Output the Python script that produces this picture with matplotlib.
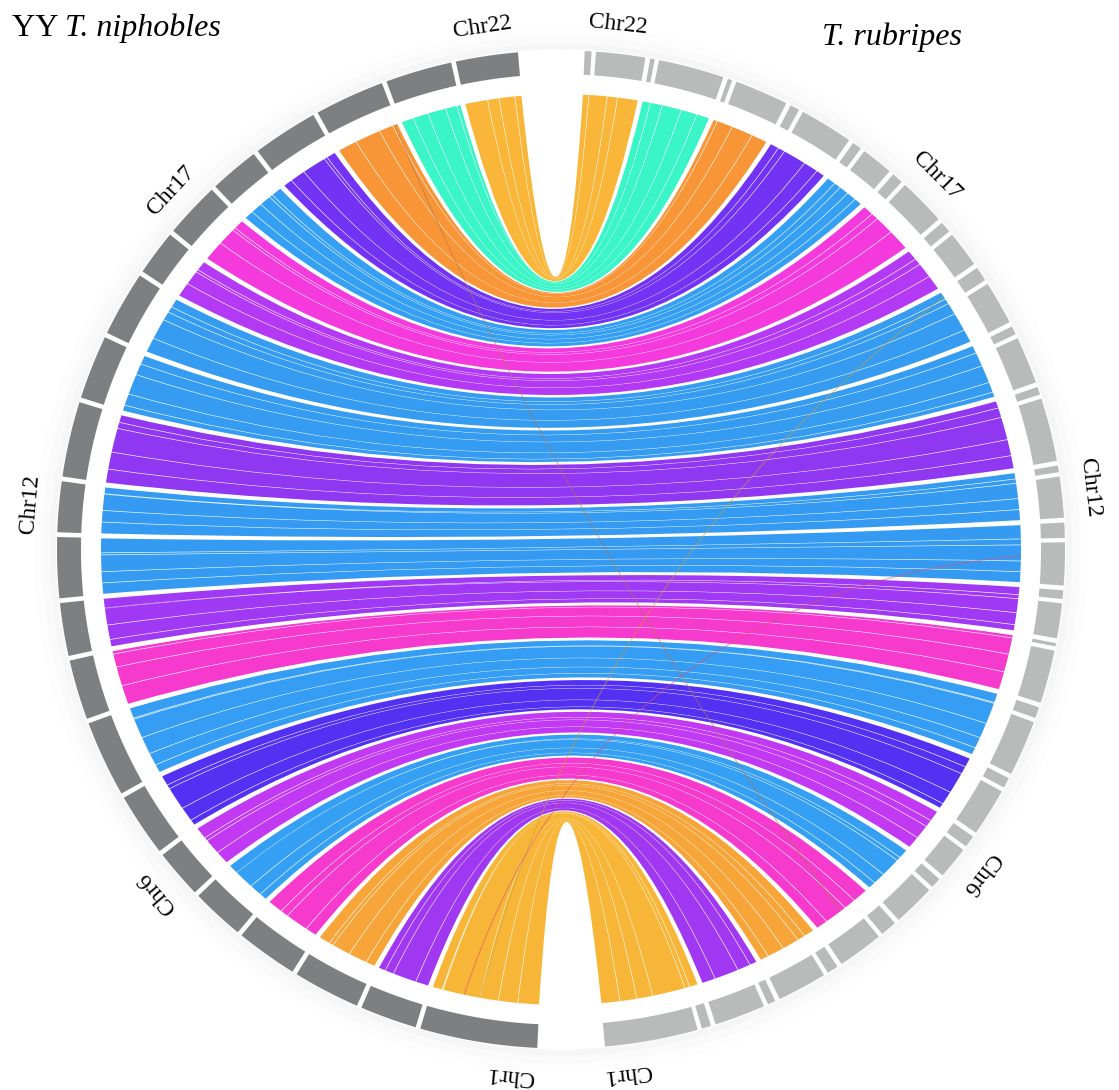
import numpy as np
import matplotlib
matplotlib.use("Agg")
import matplotlib.pyplot as plt
from matplotlib.path import Path
from matplotlib.patches import PathPatch, Polygon, Ellipse

# ---------------- data ----------------
chromosomes = [f"Chr{i}" for i in range(1, 23)]
# YY T. niphobles chromosome lengths (Mb), Chr1..Chr22
niphobles_len = [31.0, 15.1, 17.8, 16.4, 14.1, 13.0, 16.9, 20.4, 16.0, 14.1, 16.2,
                 13.5, 20.1, 17.1, 17.4, 12.1, 14.8, 13.2, 17.4, 18.5, 17.6, 16.4]
# T. rubripes: main chromosome body and short terminal piece (Mb), Chr1..Chr22
rubripes_main = [24.8, 13.6, 13.3, 12.2, 11.3, 8.7, 12.9, 15.0, 14.3, 9.4, 11.5,
                 11.0, 17.0, 12.7, 11.7, 9.7, 12.7, 8.5, 14.3, 14.3, 17.5, 13.1]
rubripes_tail = [2.5, 2.1, 3.0, 4.4, 2.8, 3.2, 2.8, 3.0, 0.9, 2.3, 4.1,
                 1.8, 2.1, 2.3, 3.9, 3.0, 3.0, 2.5, 2.5, 1.2, 1.2, 1.8]
labelled = ["Chr1", "Chr6", "Chr12", "Chr17", "Chr22"]
# colour of the synteny ribbons of each chromosome pair, Chr1..Chr22
link_colors = ["#F8B22E", "#9B2DF2", "#F7A02D", "#F52FCB", "#2A9AF3", "#BE2EF3",
               "#4A26F2", "#2A98F3", "#F62FCC", "#9A2EF3", "#2A96F2", "#2A96F2",
               "#8A2CF2", "#2A97F2", "#2A97F2", "#B02EF5", "#F52FDC", "#2A9BF3",
               "#6A28F5", "#F78F2C", "#2EF5C4", "#F9B22E"]
# synteny block boundaries (fraction of the chromosome from its upper end)
block_breaks = [
    [0.10, 0.45, 0.62, 0.80],   # Chr1
    [0.30, 0.75],               # Chr2
    [0.25, 0.55, 0.85],         # Chr3
    [0.40, 0.80],               # Chr4
    [0.20, 0.60, 0.85],         # Chr5
    [0.35, 0.70],               # Chr6
    [0.25, 0.65, 0.90],         # Chr7
    [0.15, 0.45, 0.70, 0.88],   # Chr8
    [0.30, 0.65],               # Chr9
    [0.20, 0.55, 0.85],         # Chr10
    [0.30, 0.60, 0.80],         # Chr11
    [0.15, 0.50, 0.75],         # Chr12
    [0.20, 0.55, 0.80],         # Chr13
    [0.35, 0.70, 0.90],         # Chr14
    [0.15, 0.40, 0.75],         # Chr15
    [0.30, 0.65],               # Chr16
    [0.25, 0.60],               # Chr17
    [0.30, 0.55, 0.80],         # Chr18
    [0.20, 0.60, 0.85],         # Chr19
    [0.30, 0.70],               # Chr20
    [0.25, 0.55, 0.80],         # Chr21
    [0.40, 0.60],               # Chr22
]
# sparse inter-chromosomal links: niphobles chrom, fraction, rubripes chrom, fraction
cross_nip_chrom = ["Chr20", "Chr1", "Chr1"]
cross_nip_frac = [0.05, 0.45, 0.30]
cross_rub_chrom = ["Chr4", "Chr15", "Chr11"]
cross_rub_frac = [0.50, 0.10, 0.50]
cross_colors = ["#B07A4A", "#C8A030", "#E0506A"]

# ---------------- geometry ----------------
W, H = 1119, 1090
CX, CY = 561.0, 549.5
SY = 0.99
R_OUT, R_IN, R_LINK, R_LABEL = 504.0, 480.0, 460.0, 533.0
GAP, INNER_GAP = 0.55, 0.5
L_START, L_END = 94.9, 267.3
R_START, R_END = 87.3, -85.0
K_CTRL = 0.2


def xy(r, th):
    t = np.radians(th)
    return CX + r * np.cos(t), CY - SY * r * np.sin(t)


n = len(chromosomes)
lscale = (L_END - L_START - (n - 1) * GAP) / sum(niphobles_len)
left_span = {}
a = L_START
for c, L in zip(chromosomes[::-1], niphobles_len[::-1]):
    left_span[c] = (a, a + L * lscale)
    a += L * lscale + GAP

rscale = (R_START - R_END - (n - 1) * GAP - n * INNER_GAP) / (sum(rubripes_main) + sum(rubripes_tail))
right_span = {}
b = R_START
for c, m, t in zip(chromosomes[::-1], rubripes_main[::-1], rubripes_tail[::-1]):
    t_end = b - t * rscale
    m_start = t_end - INNER_GAP
    m_end = m_start - m * rscale
    right_span[c] = (b, t_end, m_start, m_end, t, m)
    b = m_end - GAP


def left_angle(c, f):
    s, e = left_span[c]
    return s + f * (e - s)


def right_angle(c, f):
    b0, t_end, m_start, m_end, t, m = right_span[c]
    u = f * (t + m)
    if u <= t:
        return b0 - u * rscale
    return m_start - (u - t) * rscale


def ctrl(a1, b1):
    px = R_LINK * (np.cos(np.radians(a1)) + np.cos(np.radians(b1))) / 2
    py = R_LINK * (np.sin(np.radians(a1)) + np.sin(np.radians(b1))) / 2
    return CX + K_CTRL * px, CY - SY * K_CTRL * py


def arc_pts(r, t0, t1):
    k = max(6, int(abs(t1 - t0) * 6))
    th = np.linspace(t0, t1, k)
    return [xy(r, t) for t in th]


def ribbon(ax, a0, a1, b0, b1, color, alpha=0.95, z=2):
    verts, codes = [], []
    p = arc_pts(R_LINK, a0, a1)
    verts += p
    codes += [Path.MOVETO] + [Path.LINETO] * (len(p) - 1)
    verts += [ctrl(a1, b1), xy(R_LINK, b1)]
    codes += [Path.CURVE3] * 2
    p = arc_pts(R_LINK, b1, b0)[1:]
    verts += p
    codes += [Path.LINETO] * len(p)
    verts += [ctrl(b0, a0), xy(R_LINK, a0)]
    codes += [Path.CURVE3] * 2
    verts.append(xy(R_LINK, a0))
    codes.append(Path.CLOSEPOLY)
    ax.add_patch(PathPatch(Path(verts, codes), fc=color, ec="none", alpha=alpha, zorder=z))


def ring_seg(ax, s, e, color):
    th = np.linspace(s, e, 40)
    xo, yo = xy(R_OUT, th)
    xi, yi = xy(R_IN, th[::-1])
    ax.add_patch(Polygon(np.column_stack([np.r_[xo, xi], np.r_[yo, yi]]),
                         closed=True, fc=color, ec="none", zorder=3))


# ---------------- figure ----------------
fig = plt.figure(figsize=(W / 100, H / 100), dpi=100)
ax = fig.add_axes([0, 0, 1, 1])
ax.set_xlim(0, W)
ax.set_ylim(H, 0)
ax.axis("off")

# soft halo outside the circle
for r, col in [(528, "#FDFDFD"), (519, "#FAFAFA"), (511, "#F6F6F6")]:
    ax.add_patch(Ellipse((CX, CY), 2 * r, 2 * r * SY, fc=col, ec="none", zorder=0))
ax.add_patch(Ellipse((CX, CY), 2 * (R_OUT + 1), 2 * (R_OUT + 1) * SY, fc="white",
                     ec="none", zorder=0.5))

# chromosome ring
for c in chromosomes:
    s, e = left_span[c]
    ring_seg(ax, s, e, "#7E7F80")
    b0, t_end, m_start, m_end, t, m = right_span[c]
    ring_seg(ax, t_end, b0, "#B9BABA")
    ring_seg(ax, m_end, m_start, "#B9BABA")

# synteny ribbons
DELTA = 0.04
for i, c in enumerate(chromosomes):
    b0, t_end, m_start, m_end, t, m = right_span[c]
    ft = t / (t + m)
    fr = sorted(set([0.0, 1.0, ft] + block_breaks[i]))
    for f0, f1 in zip(fr[:-1], fr[1:]):
        la0, la1 = left_angle(c, f0) + DELTA, left_angle(c, f1) - DELTA
        rb0, rb1 = right_angle(c, f0) - DELTA, right_angle(c, f1) + DELTA
        ribbon(ax, la0, la1, rb0, rb1, link_colors[i])

# inter-chromosomal single links
for cn, fn, cr, fr_, col in zip(cross_nip_chrom, cross_nip_frac, cross_rub_chrom,
                                cross_rub_frac, cross_colors):
    a1 = left_angle(cn, fn)
    b1 = right_angle(cr, fr_)
    verts = [xy(R_LINK, a1), ctrl(a1, b1), xy(R_LINK, b1)]
    ax.add_patch(PathPatch(Path(verts, [Path.MOVETO, Path.CURVE3, Path.CURVE3]),
                           fc="none", ec=col, lw=0.8, alpha=0.55, zorder=4))

# chromosome labels
label_shift = {"Chr1": 4.0}
for c in labelled:
    s, e = left_span[c]
    th = (s + e) / 2 + label_shift.get(c, 0.0)
    x, y = xy(R_LABEL, th)
    ax.text(x, y, c, fontsize=17, family="Liberation Serif", rotation=th - 90,
            rotation_mode="anchor", ha="center", va="center", zorder=5)
    b0, t_end, m_start, m_end, t, m = right_span[c]
    th = (b0 + m_end) / 2 - label_shift.get(c, 0.0)
    x, y = xy(R_LABEL, th)
    ax.text(x, y, c, fontsize=17, family="Liberation Serif", rotation=th - 90,
            rotation_mode="anchor", ha="center", va="center", zorder=5)

# species titles
t1 = ax.text(12, 36, "YY ", fontsize=23, family="Liberation Serif", ha="left", va="baseline")
fig.canvas.draw()
bb = t1.get_window_extent(renderer=fig.canvas.get_renderer())
ax.text(12 + bb.width, 36, "T. niphobles", fontsize=23, family="Liberation Serif",
        style="italic", ha="left", va="baseline")
ax.text(892, 45, "T. rubripes", fontsize=23, family="Liberation Serif",
        style="italic", ha="center", va="baseline")

fig.savefig("out.png", dpi=100, facecolor="white")
